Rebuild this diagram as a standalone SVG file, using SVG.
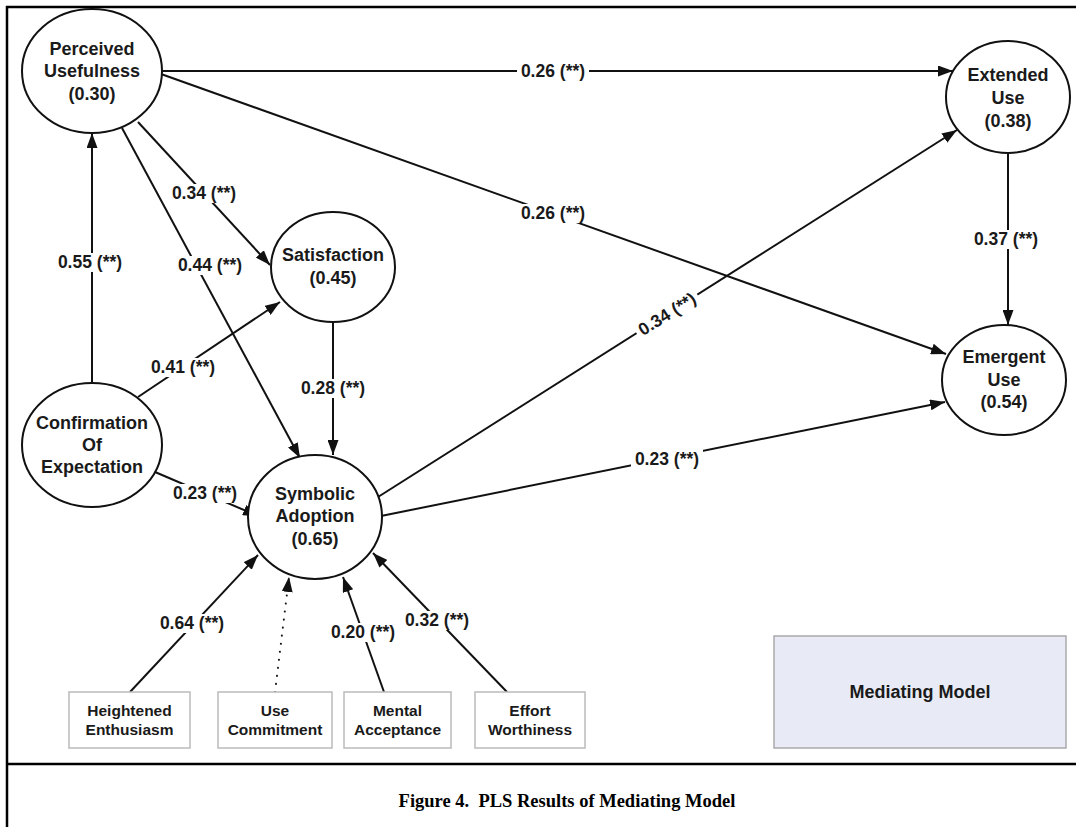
<svg xmlns="http://www.w3.org/2000/svg" width="1076" height="827" viewBox="0 0 1076 827">
<defs>
<marker id="arr" markerUnits="userSpaceOnUse" markerWidth="15" markerHeight="11" refX="15" refY="5.5" orient="auto">
<path d="M0,0 L15,5.5 L0,11 z" fill="#111"/>
</marker>
<style>
.frame{stroke:#000;stroke-width:2.5;fill:none}
.node{fill:#fff;stroke:#111;stroke-width:2}
.box{fill:#fff;stroke:#bbb;stroke-width:1.5}
.conn{stroke:#111;stroke-width:2;fill:none;marker-end:url(#arr)}
.dot{stroke:#111;stroke-width:2;fill:none;stroke-dasharray:0.1 8;stroke-linecap:round;marker-end:url(#arr)}
.nt{font-family:"Liberation Sans",Arial,sans-serif;font-weight:bold;font-size:18px;fill:#1a1a1a;text-anchor:middle}
.bt{font-family:"Liberation Sans",Arial,sans-serif;font-weight:bold;font-size:15.5px;fill:#1a1a1a;text-anchor:middle}
.lt{font-family:"Liberation Sans",Arial,sans-serif;font-weight:bold;font-size:17.5px;fill:#1a1a1a;text-anchor:middle}
.mt{font-family:"Liberation Sans",Arial,sans-serif;font-weight:bold;font-size:18px;fill:#1a1a1a;text-anchor:middle}
.lb{fill:#fff}
.cap{font-family:"Liberation Serif","Times New Roman",serif;font-weight:bold;font-size:18.5px;fill:#000;text-anchor:middle}
</style>
</defs>
<rect width="1076" height="827" fill="#fff"/>
<g id="frame">
<line class="frame" x1="6" y1="7" x2="1076" y2="7"/>
<line class="frame" x1="7" y1="6" x2="7" y2="827"/>
<line class="frame" x1="6" y1="764" x2="1076" y2="764"/>
</g>
<g id="connectors">
<line class="conn" x1="162" y1="71" x2="953" y2="71"/>
<line class="conn" x1="161" y1="74" x2="946" y2="354"/>
<line class="conn" x1="138" y1="122" x2="270" y2="265"/>
<line class="conn" x1="122" y1="128" x2="300" y2="458"/>
<line class="conn" x1="92" y1="383" x2="92" y2="133"/>
<line class="conn" x1="138" y1="397" x2="280" y2="302"/>
<line class="conn" x1="155" y1="472" x2="258" y2="516"/>
<line class="conn" x1="333" y1="322" x2="333" y2="455"/>
<line class="conn" x1="378" y1="497" x2="957" y2="130"/>
<line class="conn" x1="381" y1="516" x2="945" y2="402"/>
<line class="conn" x1="1008" y1="153" x2="1008" y2="325"/>
<line class="conn" x1="130" y1="692" x2="258" y2="555"/>
<line class="dot" x1="275" y1="692" x2="289" y2="577"/>
<line class="conn" x1="384" y1="692" x2="343" y2="577"/>
<line class="conn" x1="507" y1="692" x2="373" y2="553"/>
</g>
<g id="labels">
<rect class="lb" x="517" y="62" width="72" height="19"/><text class="lt" x="553" y="77">0.26 (**)</text>
<rect class="lb" x="517" y="204" width="72" height="19"/><text class="lt" x="553" y="219">0.26 (**)</text>
<rect class="lb" x="168" y="184" width="72" height="19"/><text class="lt" x="204" y="199">0.34 (**)</text>
<rect class="lb" x="174" y="256" width="72" height="19"/><text class="lt" x="210" y="271">0.44 (**)</text>
<rect class="lb" x="54" y="253" width="72" height="19"/><text class="lt" x="90" y="268">0.55 (**)</text>
<rect class="lb" x="147" y="358" width="72" height="19"/><text class="lt" x="183" y="373">0.41 (**)</text>
<rect class="lb" x="169" y="484" width="72" height="19"/><text class="lt" x="205" y="499">0.23 (**)</text>
<rect class="lb" x="297" y="379" width="72" height="19"/><text class="lt" x="333" y="394">0.28 (**)</text>
<g transform="translate(667,314) rotate(-32.4)"><rect class="lb" x="-36" y="-9.5" width="72" height="19"/><text class="lt" x="0" y="6">0.34 (**)</text></g>
<rect class="lb" x="631" y="450" width="72" height="19"/><text class="lt" x="667" y="465">0.23 (**)</text>
<rect class="lb" x="970" y="230" width="72" height="19"/><text class="lt" x="1006" y="245">0.37 (**)</text>
<rect class="lb" x="156" y="614" width="72" height="19"/><text class="lt" x="192" y="629">0.64 (**)</text>
<rect class="lb" x="327" y="623" width="72" height="19"/><text class="lt" x="363" y="638">0.20 (**)</text>
<rect class="lb" x="401" y="611" width="72" height="19"/><text class="lt" x="437" y="626">0.32 (**)</text>
</g>
<g id="perceived-usefulness">
<ellipse class="node" cx="92" cy="71" rx="70" ry="62"/>
<text class="nt" x="92" y="54.5">Perceived</text>
<text class="nt" x="92" y="77">Usefulness</text>
<text class="nt" x="92" y="99.5">(0.30)</text>
</g>
<g id="extended-use">
<ellipse class="node" cx="1008" cy="97" rx="62" ry="56"/>
<text class="nt" x="1008" y="81">Extended</text>
<text class="nt" x="1008" y="104">Use</text>
<text class="nt" x="1008" y="127">(0.38)</text>
</g>
<g id="emergent-use">
<ellipse class="node" cx="1004" cy="380" rx="62" ry="55"/>
<text class="nt" x="1004" y="363">Emergent</text>
<text class="nt" x="1004" y="386">Use</text>
<text class="nt" x="1004" y="408">(0.54)</text>
</g>
<g id="satisfaction">
<ellipse class="node" cx="333" cy="267" rx="62" ry="55"/>
<text class="nt" x="333" y="261">Satisfaction</text>
<text class="nt" x="333" y="284">(0.45)</text>
</g>
<g id="confirmation-of-expectation">
<ellipse class="node" cx="92" cy="445" rx="70" ry="62"/>
<text class="nt" x="92" y="429">Confirmation</text>
<text class="nt" x="92" y="451">Of</text>
<text class="nt" x="92" y="473">Expectation</text>
</g>
<g id="symbolic-adoption">
<ellipse class="node" cx="315" cy="517" rx="67" ry="62"/>
<text class="nt" x="315" y="500">Symbolic</text>
<text class="nt" x="315" y="522">Adoption</text>
<text class="nt" x="315" y="545">(0.65)</text>
</g>
<g id="heightened-enthusiasm">
<rect class="box" x="69" y="692" width="121" height="56"/>
<text class="bt" x="129.5" y="716">Heightened</text>
<text class="bt" x="129.5" y="735">Enthusiasm</text>
</g>
<g id="use-commitment">
<rect class="box" x="218" y="692" width="114" height="56"/>
<text class="bt" x="275" y="716">Use</text>
<text class="bt" x="275" y="735">Commitment</text>
</g>
<g id="mental-acceptance">
<rect class="box" x="344" y="692" width="107" height="56"/>
<text class="bt" x="397.5" y="716">Mental</text>
<text class="bt" x="397.5" y="735">Acceptance</text>
</g>
<g id="effort-worthiness">
<rect class="box" x="475" y="692" width="110" height="56"/>
<text class="bt" x="530" y="716">Effort</text>
<text class="bt" x="530" y="735">Worthiness</text>
</g>
<g id="mediating-model">
<rect x="774" y="636" width="292" height="112" fill="#e8ebf5" stroke="#aaa" stroke-width="1.5"/>
<text class="mt" x="920" y="698">Mediating Model</text>
</g>
<text class="cap" x="567" y="807">Figure 4.&#160; PLS Results of Mediating Model</text>
</svg>
